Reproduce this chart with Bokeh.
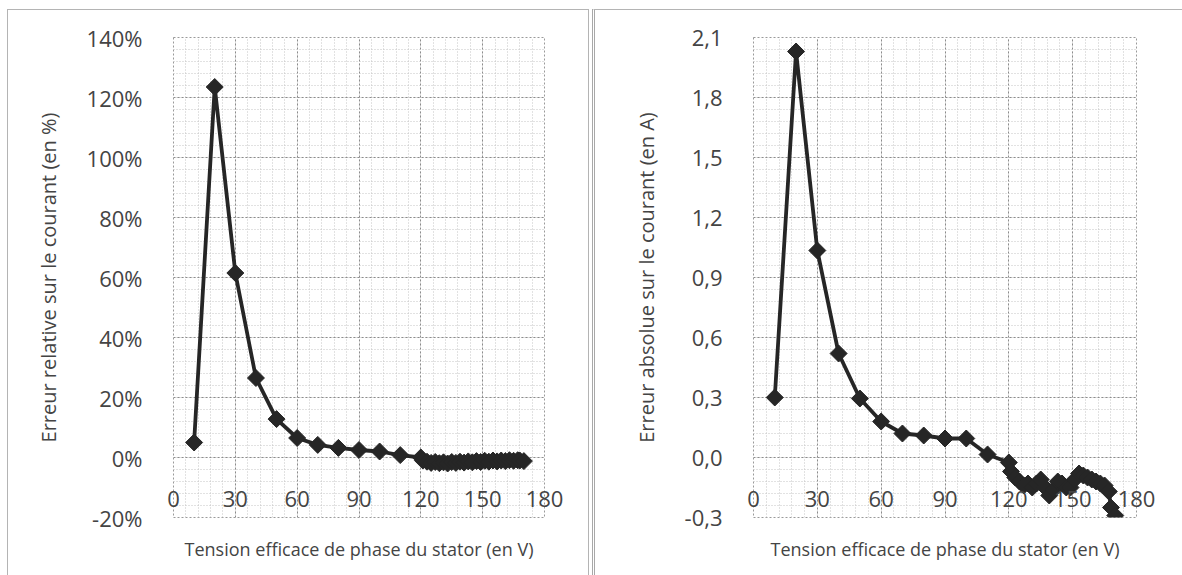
from bokeh.plotting import figure
from bokeh.layouts import row, column
from bokeh.models import FixedTicker, ColumnDataSource
from bokeh.embed import file_html
from bokeh.resources import INLINE
import numpy as np

# ---------------- data ----------------
voltage = [10, 20, 30, 40, 50, 60, 70, 80, 90, 100, 110, 120,
           121, 123, 125, 127, 129, 131, 133, 135, 137, 139, 141, 143, 145,
           147, 149, 151, 153, 155, 157, 159, 161, 163, 165, 167, 168, 170]
rel_error_pct = [5.0, 123.5, 61.5, 26.5, 12.8, 6.5, 4.2, 3.2, 2.5, 2.0, 0.8, 0.0,
                 -1.0, -1.4, -1.8, -1.5, -1.9, -1.6, -2.0, -1.5, -1.8, -1.4, -1.7, -1.3, -1.6,
                 -1.2, -1.5, -1.1, -1.4, -1.0, -1.3, -1.0, -1.2, -0.9, -1.1, -0.9, -1.0, -1.2]
abs_error_A = [0.30, 2.03, 1.035, 0.52, 0.295, 0.18, 0.12, 0.11, 0.095, 0.095, 0.015, -0.025,
               -0.07, -0.10, -0.12, -0.14, -0.13, -0.15, -0.13, -0.11, -0.15, -0.19, -0.16, -0.12, -0.13,
               -0.15, -0.15, -0.11, -0.08, -0.09, -0.10, -0.11, -0.12, -0.13, -0.14, -0.17, -0.25, -0.29]

x_ticks = [0, 30, 60, 90, 120, 150, 180]
x_tick_labels = ["0", "30", "60", "90", "120", "150", "180"]
left_y_ticks = [-20, 0, 20, 40, 60, 80, 100, 120, 140]
left_y_labels = ["-20%", "0%", "20%", "40%", "60%", "80%", "100%", "120%", "140%"]
right_y_ticks = [-0.3, 0.0, 0.3, 0.6, 0.9, 1.2, 1.5, 1.8, 2.1]
right_y_labels = ["-0,3", "0,0", "0,3", "0,6", "0,9", "1,2", "1,5", "1,8", "2,1"]

x_title = "Tension efficace de phase du stator (en V)"
left_y_title = "Erreur relative sur le courant (en %)"
right_y_title = "Erreur absolue sur le courant (en A)"

FONT = "Open Sans"
TXT = "#444444"
SERIES = "#262626"


def make_panel(width, height, y_values, y_ticks, y_labels, y_title, y_range, y_minor_step,
               border_left, border_right, border_top):
    p = figure(width=width, height=height, x_range=(0, 180), y_range=y_range,
               output_backend="svg", toolbar_location=None,
               min_border_left=border_left, min_border_right=border_right,
               min_border_top=border_top, min_border_bottom=58)
    p.background_fill_color = "white"
    p.border_fill_color = "white"
    p.outline_line_color = "#9a9a9a"
    p.outline_line_dash = "2 2"

    # grids
    x_minor = list(np.arange(0, 181, 6))
    y_minor = list(np.round(np.arange(y_range[0], y_range[1] + 1e-9, y_minor_step), 4))
    p.xgrid.ticker = FixedTicker(ticks=x_ticks, minor_ticks=x_minor)
    p.ygrid.ticker = FixedTicker(ticks=y_ticks, minor_ticks=y_minor)
    for g in (p.xgrid, p.ygrid):
        g.grid_line_color = "#8c8c8c"
        g.grid_line_dash = "2 2"
        g.grid_line_width = 1
        g.minor_grid_line_color = "#c4c4c4"
        g.minor_grid_line_dash = "1 2"
        g.minor_grid_line_width = 1

    # y axis
    ya = p.yaxis[0]
    ya.ticker = FixedTicker(ticks=y_ticks)
    ya.major_label_overrides = {t: l for t, l in zip(y_ticks, y_labels)}
    ya.axis_line_color = None
    ya.major_tick_line_color = None
    ya.minor_tick_line_color = None
    ya.major_label_standoff = 25
    ya.major_label_text_font = FONT
    ya.major_label_text_font_size = "22px"
    ya.major_label_text_color = TXT
    ya.axis_label = y_title
    ya.axis_label_standoff = 22
    ya.axis_label_text_font = FONT
    ya.axis_label_text_font_size = "20px"
    ya.axis_label_text_font_style = "normal"
    ya.axis_label_text_color = TXT

    # x axis: tick labels pulled up into the plot area
    xa = p.xaxis[0]
    xa.ticker = FixedTicker(ticks=x_ticks)
    xa.major_label_overrides = {t: l for t, l in zip(x_ticks, x_tick_labels)}
    xa.axis_line_color = None
    xa.major_tick_line_color = None
    xa.minor_tick_line_color = None
    xa.major_tick_out = 0
    xa.major_tick_in = 0
    xa.major_label_standoff = -27
    xa.major_label_text_font = FONT
    xa.major_label_text_font_size = "22px"
    xa.major_label_text_color = TXT
    xa.axis_label = x_title
    xa.axis_label_standoff = 27
    xa.axis_label_text_font = FONT
    xa.axis_label_text_font_size = "18px"
    xa.axis_label_text_font_style = "normal"
    xa.axis_label_text_color = TXT

    src = ColumnDataSource(dict(x=voltage, y=y_values))
    p.line("x", "y", source=src, line_color=SERIES, line_width=3.8)
    p.scatter("x", "y", source=src, marker="square", angle=np.pi / 4, size=12,
              fill_color=SERIES, line_color=SERIES)
    return p


p1 = make_panel(580, 565, rel_error_pct, left_y_ticks, left_y_labels, left_y_title,
                (-20, 140), 4, 165, 44, 27)
p2 = make_panel(587, 565, abs_error_A, right_y_ticks, right_y_labels, right_y_title,
                (-0.3, 2.1), 0.06, 158, 46, 27)

box1 = column(p1, styles={"border": "1px solid #b4b4b4", "margin": "9px 0px 0px 7px",
                          "background": "white"})
box2 = column(p2, styles={"border-left": "3px double #a8a8a8", "border-top": "1px solid #b4b4b4",
                          "margin": "9px 0px 0px 3px", "background": "white"})

layout = row(box1, box2, styles={"background": "white"})
open("out.html", "w").write(file_html(layout, INLINE))
